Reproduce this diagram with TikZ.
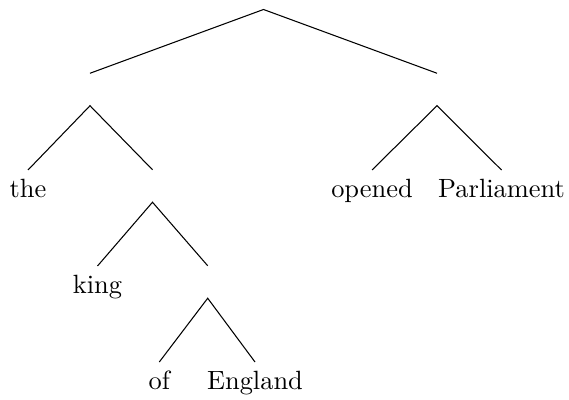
\documentclass[tikz,border=0pt]{standalone}
\begin{document}
\begin{tikzpicture}[x=0.3788pt,y=-0.3788pt,
  phrase/.style={inner sep=0pt,minimum width=0pt,minimum height=11.9pt},
  word/.style={anchor=north,inner xsep=0pt,inner ysep=3.4pt,text height=6.94pt,text depth=1.94pt},
  branch/.style={line width=0.4pt}]
\useasboundingbox (0,0) rectangle (569,400);
% sentence root and its two phrases
\coordinate (s) at (263.5,9.5);
\node[phrase] (np) at (90,89.5) {};
\node[phrase] (vp) at (437,89.5) {};
% inner phrases of the subject
\node[phrase] (nbar) at (152.5,186) {};
\node[phrase] (pp) at (207.7,282) {};
% words
\node[word] (the) at (28,170) {the};
\node[word] (king) at (97.5,266) {king};
\node[word] (of) at (159.3,362) {of};
\node[word] (england) at (255,362) {England};
\node[word] (opened) at (372,170) {opened};
\node[word] (parl) at (501.5,170) {Parliament};
% branches
\draw[branch] (np.north) -- (s) -- (vp.north);
\draw[branch] (the.north) -- (np.south) -- (nbar.north);
\draw[branch] (king.north) -- (nbar.south) -- (pp.north);
\draw[branch] (of.north) -- (pp.south) -- (england.north);
\draw[branch] (opened.north) -- (vp.south) -- (parl.north);
\end{tikzpicture}
\end{document}
